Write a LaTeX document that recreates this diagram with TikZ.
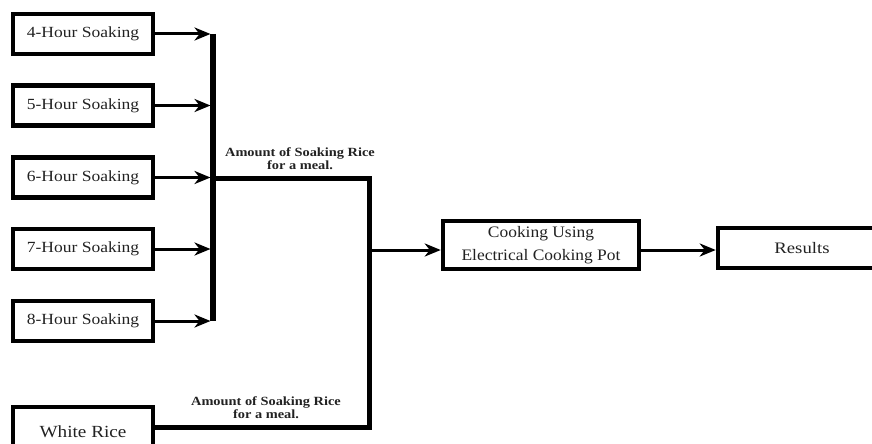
\documentclass[tikz,border=0pt]{standalone}
\usepackage{graphicx}
\usepackage{fontspec}
\setmainfont{Liberation Serif}
\usetikzlibrary{arrows.meta}
\newcommand\sx[2]{\scalebox{#1}[1]{#2}}
\definecolor{ink}{HTML}{222222}
\tikzset{
  box/.style={draw=black, line width=4.5pt, minimum width=140pt, minimum height=40pt,
    inner sep=0pt, text=ink, font=\fontsize{15.5}{18}\selectfont},
  arr/.style={line width=3pt, -{Stealth[length=16pt,width=13pt,inset=5pt]}},
  bus/.style={line width=5.5pt},
  thick line/.style={line width=5pt},
  lbl/.style={align=center, text=ink, inner sep=0pt, font=\fontsize{12.5}{13}\selectfont\bfseries}
}
\begin{document}
\begin{tikzpicture}[x=1pt,y=-1pt]
\useasboundingbox (0,0) rectangle (872,444);
% soaking boxes
\node[box] (h4) at (83,34) {\sx{1.13}{4-Hour Soaking}};
\node[box] (h5) at (83,105.5) {\sx{1.13}{5-Hour Soaking}};
\node[box] (h6) at (83,177.5) {\sx{1.13}{6-Hour Soaking}};
\node[box] (h7) at (83,249) {\sx{1.13}{7-Hour Soaking}};
\node[box] (h8) at (83,321) {\sx{1.13}{8-Hour Soaking}};
% white rice box (extends below page)
\node[box, minimum height=60pt, font=\fontsize{17}{20}\selectfont] (wr) at (83,437) {\raisebox{10pt}{\sx{1.13}{White Rice}}};
% cooking and results
\node[box, minimum width=196pt, minimum height=48pt, align=center, font=\fontsize{16}{23.5}\selectfont] (cook) at (541,245)
  {\sx{1.09}{Cooking Using}\\\sx{1.09}{Electrical Cooking Pot}};
\node[box, minimum width=182pt, minimum height=40pt, font=\fontsize{16}{18}\selectfont] (res) at (809,248)
  {\hspace*{-14pt}\sx{1.17}{Results}};
% bus
\coordinate (bt) at (213,34);
\coordinate (bb) at (213,321);
\draw[bus] (bt) -- (bb);
\foreach \n in {h4,h5,h6,h7,h8}{
  \draw[arr] (\n.east) -- ([xshift=-2.5pt]bt |- \n.east);
}
% junction lines
\coordinate (m) at (211,178);
\coordinate (jt) at (369,178);
\coordinate (jb) at (369,427);
\coordinate (ja) at (369,250);
\draw[thick line, line join=miter] (m) -- (jt) -- (jb) -- (wr.east |- jb);
\draw[arr] (ja) -- (cook.west |- ja);
\draw[arr] (cook.east |- ja) -- (res.west |- ja);
% labels
\node[lbl] (l1) at (300,159) {\sx{1.15}{Amount of Soaking Rice}\\\sx{1.15}{for a meal.}};
\node[lbl] (l2) at (266,408) {\sx{1.15}{Amount of Soaking Rice}\\\sx{1.15}{for a meal.}};
\end{tikzpicture}
\end{document}
